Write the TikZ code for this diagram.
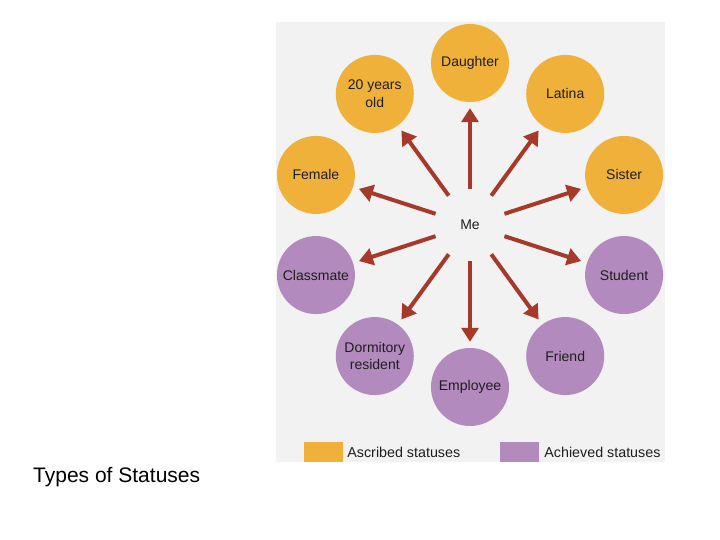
\documentclass[tikz,border=0pt]{standalone}
\usepackage{fontspec}
\setmainfont{Liberation Sans}
\usetikzlibrary{positioning, calc, arrows.meta}

\definecolor{ascribed}{RGB}{240,177,58}
\definecolor{achieved}{RGB}{178,138,190}
\definecolor{panelgray}{RGB}{242,242,242}
\definecolor{arrowred}{RGB}{166,58,42}
\definecolor{inktext}{RGB}{30,30,30}

\tikzset{
  status/.style={circle, minimum size=78pt, inner sep=0pt, align=center,
                 text=inktext, font=\fontsize{14}{17.5}\selectfont},
  ascr/.style={status, fill=ascribed},
  achv/.style={status, fill=achieved},
  link/.style={arrowred, line width=4pt, shorten >=6pt,
               -{Triangle[length=14pt,width=17pt]}},
  key/.style={minimum width=39pt, minimum height=20pt, inner sep=0pt},
  keytext/.style={inner sep=0pt, text=inktext, font=\fontsize{14.3}{16}\selectfont}
}

\begin{document}
\begin{tikzpicture}[x=1pt, y=1pt]
    \useasboundingbox (0,0) rectangle (720,540);
    \fill[panelgray] (276,78) rectangle (665,518);

    \node[circle, minimum size=72pt, inner sep=0pt, text=inktext,
          font=\fontsize{14}{16}\selectfont] (me) at (470,315) {Me};

    \foreach \ang/\name/\txt/\kind in {
        90/daughter/Daughter/ascr, 54/latina/Latina/ascr,
        18/sister/Sister/ascr, 126/age/{20 years\\old}/ascr,
        162/female/Female/ascr, 198/classmate/Classmate/achv,
        234/dorm/{Dormitory\\resident}/achv, 270/employee/Employee/achv,
        306/friend/Friend/achv, 342/student/Student/achv}
    {
        \node[\kind] (\name) at ($(me)+(\ang:162)$) {\txt};
        \draw[link] (me) -- (\name);
    }

    % legend
    \node[key, fill=ascribed] (ascrkey) at (323.5,88) {};
    \node[keytext, right=4pt of ascrkey] (ascrlabel) {Ascribed statuses};
    \node[key, fill=achieved] (achvkey) at (519.5,88) {};
    \node[keytext, right=5pt of achvkey] (achvlabel) {Achieved statuses};

    \node[anchor=west, inner sep=0pt, font=\fontsize{21}{24}\selectfont]
        (caption) at (33,63) {Types of Statuses};
\end{tikzpicture}
\end{document}
